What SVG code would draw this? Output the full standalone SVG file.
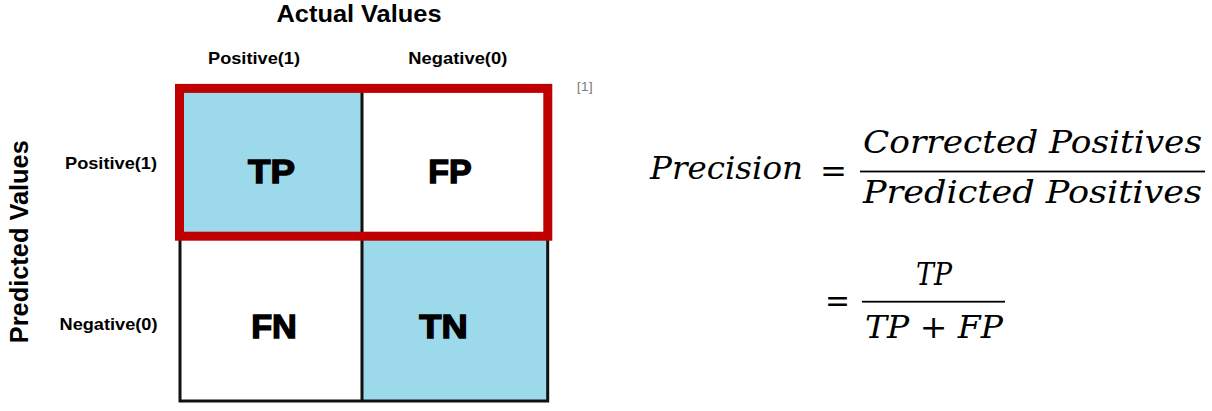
<svg xmlns="http://www.w3.org/2000/svg" width="1212" height="411" viewBox="0 0 1212 411">
<style>
.hdr{font-family:"Liberation Sans",Arial,sans-serif;font-weight:bold;fill:#000}
.cell{font-family:"Liberation Sans",Arial,sans-serif;font-weight:bold;font-size:34px;fill:#000;stroke:#000;stroke-width:1.4;text-anchor:middle}
.math{font-family:"DejaVu Serif","Liberation Serif",serif;font-style:italic;font-size:31px;fill:#000}
.op{font-family:"DejaVu Serif","Liberation Serif",serif;font-style:normal;font-size:31px;fill:#000}
.grid{fill:none;stroke:#111;stroke-width:3}
.blue{fill:#9cdaeb}
</style>
<rect width="1212" height="411" fill="#fff"/>
<g id="headers">
<text class="hdr" x="359" y="21.7" font-size="24" text-anchor="middle" textLength="165" lengthAdjust="spacingAndGlyphs">Actual Values</text>
<text class="hdr" x="254" y="64.3" font-size="16.5" text-anchor="middle" textLength="92" lengthAdjust="spacingAndGlyphs">Positive(1)</text>
<text class="hdr" x="457.8" y="64.3" font-size="16.5" text-anchor="middle" textLength="99" lengthAdjust="spacingAndGlyphs">Negative(0)</text>
<text class="hdr" transform="translate(28.3,241.7) rotate(-90)" x="0" y="0" font-size="26.5" text-anchor="middle" textLength="203" lengthAdjust="spacingAndGlyphs">Predicted Values</text>
<text class="hdr" x="111" y="169" font-size="16.5" text-anchor="middle" textLength="92" lengthAdjust="spacingAndGlyphs">Positive(1)</text>
<text class="hdr" x="108.5" y="330" font-size="16.5" text-anchor="middle" textLength="98" lengthAdjust="spacingAndGlyphs">Negative(0)</text>
<text x="584.7" y="90.5" font-family="Liberation Sans,Arial,sans-serif" font-size="13" fill="#808080" text-anchor="middle" textLength="16" lengthAdjust="spacingAndGlyphs">[1]</text>
</g>
<g id="matrix">
<g id="cell-tp"><rect class="blue" x="180" y="88" width="182" height="148"/><text class="cell" x="271.5" y="182.7" textLength="47" lengthAdjust="spacingAndGlyphs">TP</text></g>
<g id="cell-fp"><text class="cell" x="450" y="182.7" textLength="43.4" lengthAdjust="spacingAndGlyphs">FP</text></g>
<g id="cell-fn"><text class="cell" x="274" y="338.3" textLength="45.7" lengthAdjust="spacingAndGlyphs">FN</text></g>
<g id="cell-tn"><rect class="blue" x="362" y="236" width="186" height="165"/><text class="cell" x="443.5" y="338.3" textLength="48.4" lengthAdjust="spacingAndGlyphs">TN</text></g>
<rect class="grid" x="180" y="88" width="367.7" height="313"/>
<line class="grid" x1="362" y1="88" x2="362" y2="401"/>
<line class="grid" x1="180" y1="236" x2="547.7" y2="236"/>
</g>
<g id="highlight">
<rect x="179.5" y="88.4" width="368.3" height="147.8" fill="none" stroke="#c00000" stroke-width="9"/>
</g>
<g id="formula">
<text class="math" x="650" y="179.3" textLength="153" lengthAdjust="spacingAndGlyphs">Precision</text>
<text class="op" x="820" y="182" textLength="27" lengthAdjust="spacingAndGlyphs">=</text>
<text class="math" x="863" y="153.3" textLength="339" lengthAdjust="spacingAndGlyphs">Corrected Positives</text>
<rect x="860" y="170.6" width="345" height="1.8" fill="#000"/>
<text class="math" x="863" y="202.5" textLength="339" lengthAdjust="spacingAndGlyphs">Predicted Positives</text>
<text class="op" x="825" y="311.5" textLength="25" lengthAdjust="spacingAndGlyphs">=</text>
<text class="math" x="916" y="285" textLength="36" lengthAdjust="spacingAndGlyphs">TP</text>
<rect x="862" y="300.8" width="143" height="1.8" fill="#000"/>
<text class="math" x="865" y="337.5" textLength="138" lengthAdjust="spacingAndGlyphs">TP <tspan class="op">+</tspan> FP</text>
</g>
</svg>
